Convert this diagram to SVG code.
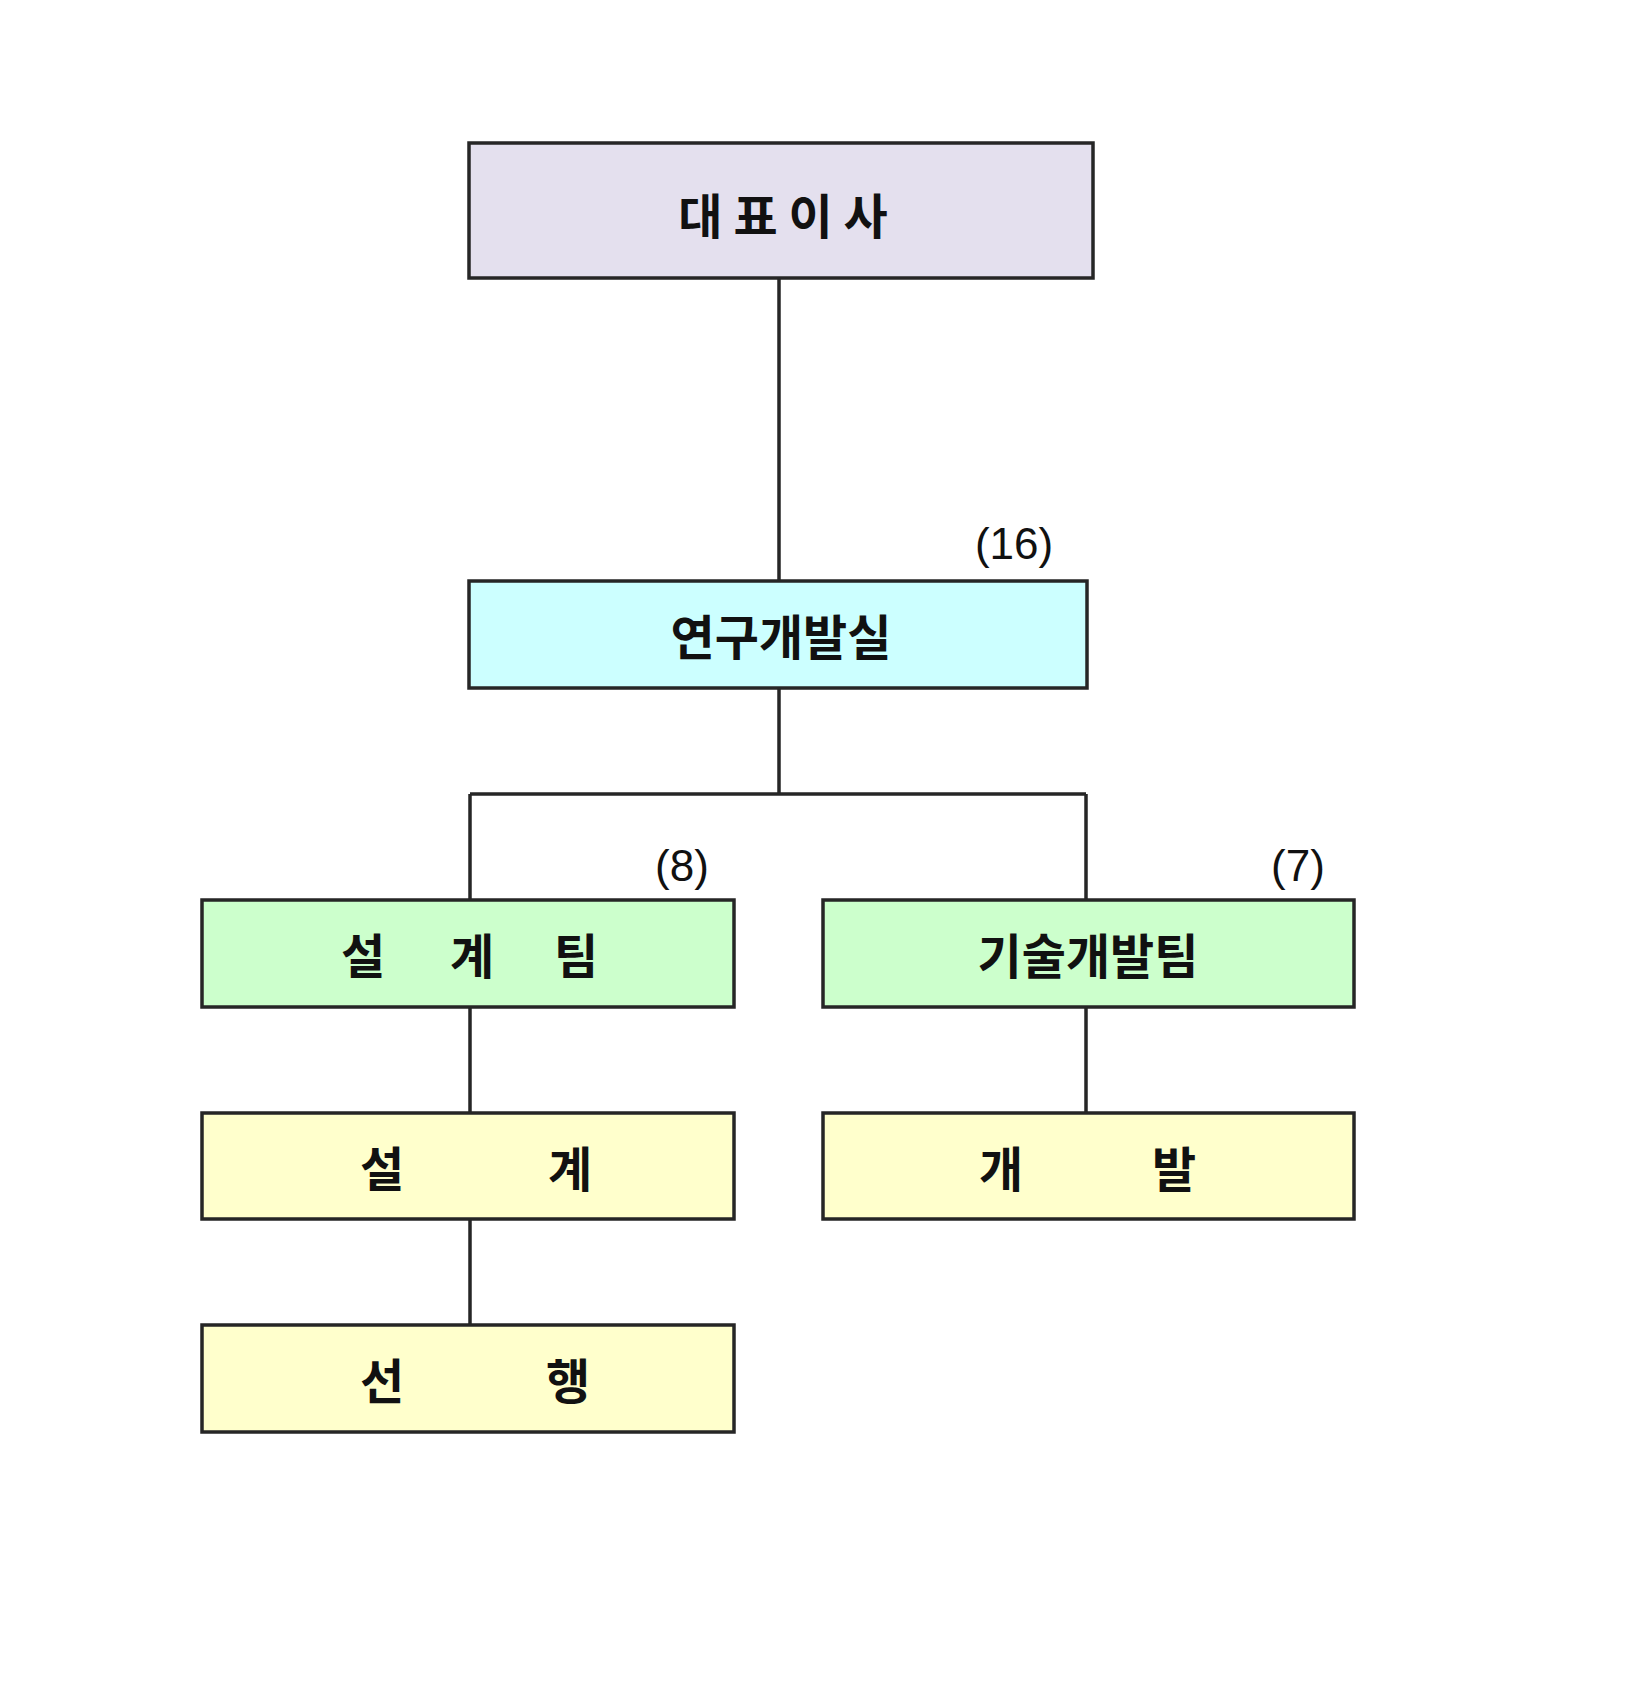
<svg xmlns="http://www.w3.org/2000/svg" width="1628" height="1708" viewBox="0 0 1628 1708">
<style>
.b{stroke:#262626;stroke-width:3.5}
.t{font-family:"Noto Sans CJK KR","Liberation Sans",sans-serif;font-weight:bold;font-size:48px;fill:#111;text-anchor:middle;dominant-baseline:central}
.n{font-family:"Liberation Sans",sans-serif;font-size:44px;fill:#111;text-anchor:middle;dominant-baseline:central}
.c{stroke:#262626;stroke-width:3.5;fill:none}
</style>
<rect width="1628" height="1708" fill="#fff"/>
<g id="connectors">
<path class="c" d="M779 278V581M779 688V794M470 794H1086M470 794V900M1086 794V900M470 1007V1113M1086 1007V1113M470 1219V1325"/>
</g>
<g id="ceo"><rect class="b" x="469" y="143" width="624" height="135" fill="#E4E0EE"/><text class="t" x="783" y="213">대 표 이 사</text></g>
<g id="rnd"><rect class="b" x="469" y="581" width="618" height="107" fill="#CCFFFF"/><text class="t" x="781" y="634">연구개발실</text><text class="n" x="1014" y="543">(16)</text></g>
<g id="design-team"><rect class="b" x="202" y="900" width="532" height="107" fill="#CCFFCC"/><text class="t" x="363 472 576" y="953" text-anchor="middle">설계팀</text><text class="n" x="682" y="865">(8)</text></g>
<g id="tech-team"><rect class="b" x="823" y="900" width="531" height="107" fill="#CCFFCC"/><text class="t" x="1088" y="953">기술개발팀</text><text class="n" x="1298" y="865">(7)</text></g>
<g id="design"><rect class="b" x="202" y="1113" width="532" height="106" fill="#FFFFCC"/><text class="t" x="382 570" y="1166">설계</text></g>
<g id="dev"><rect class="b" x="823" y="1113" width="531" height="106" fill="#FFFFCC"/><text class="t" x="1001 1174" y="1166">개발</text></g>
<g id="advance"><rect class="b" x="202" y="1325" width="532" height="107" fill="#FFFFCC"/><text class="t" x="382 568" y="1378">선행</text></g>
</svg>
